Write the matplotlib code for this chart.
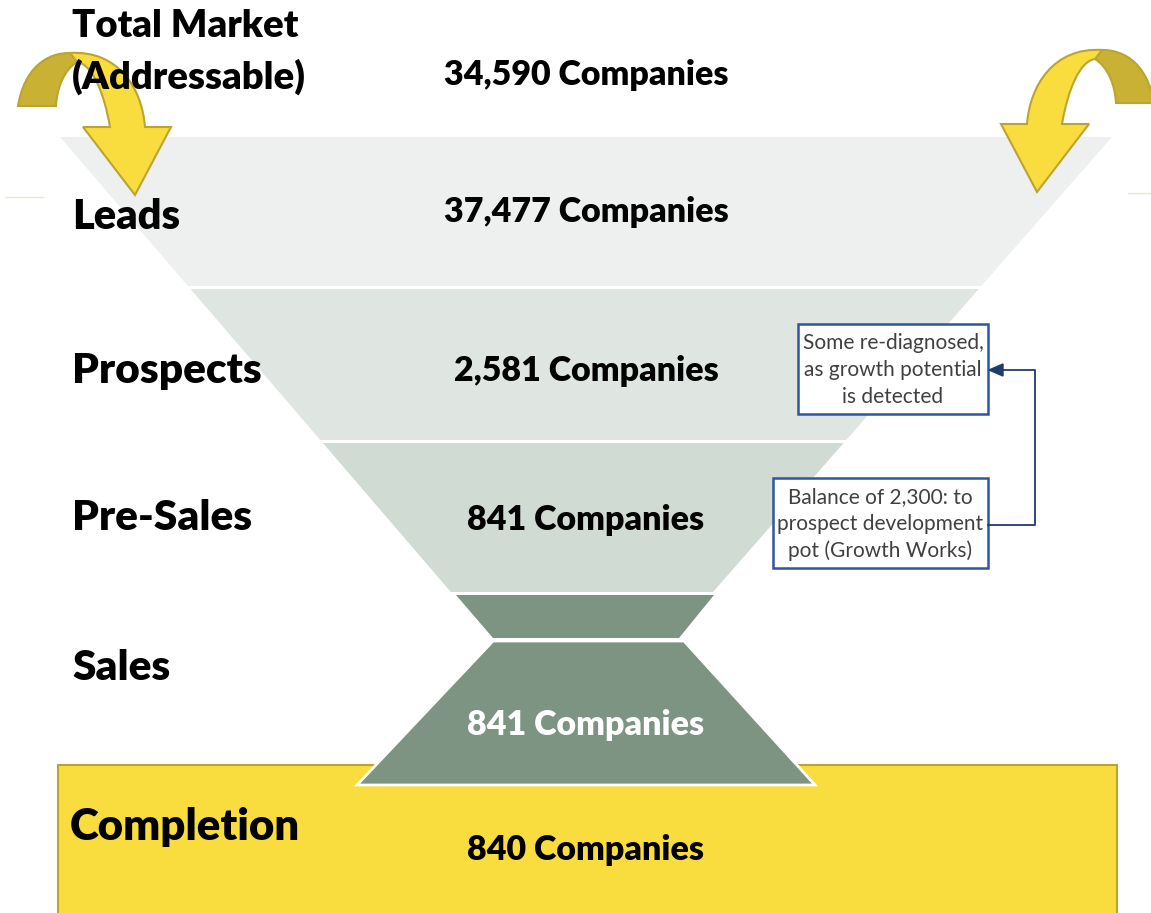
import matplotlib
matplotlib.use("Agg")
import matplotlib.pyplot as plt
from matplotlib.patches import Polygon, Rectangle, PathPatch
from matplotlib.path import Path

# ---------------- data ----------------
stages = ["Total Market\n(Addressable)", "Leads", "Prospects", "Pre-Sales", "Sales", "Completion"]
counts = [34590, 37477, 2581, 841, 841, 840]
note_top = "Some re-diagnosed,\nas growth potential\nis detected"
note_bottom = "Balance of 2,300: to\nprospect development\npot (Growth Works)"

# ---------------- style / layout ----------------
W, H = 1151, 913
FONT = "Lato"
WEIGHT = "heavy"
band_colors = ["#EEF0EF", "#DFE5E1", "#D0DBD4"]
sales_color = "#7E9483"
yellow = "#F9DC3D"
yellow_dark = "#C9B134"
yellow_edge = "#BCA432"
navy = "#1F3A6E"
box_edge = "#2F55A4"

fig = plt.figure(figsize=(W / 100, H / 100), dpi=100)
ax = fig.add_axes([0, 0, 1, 1])
ax.set_xlim(0, W)
ax.set_ylim(H, 0)
ax.axis("off")

# funnel edge lines
def xl(y):
    return 60 + (y - 137) * 0.859

def xr(y):
    return 1112 - (y - 137) * 0.877

band_y = [(137, 286), (289, 440), (443, 592)]
for (y0, y1), col in zip(band_y, band_colors):
    ax.add_patch(Polygon([(xl(y0), y0), (xr(y0), y0), (xr(y1), y1), (xl(y1), y1)],
                         closed=True, facecolor=col, edgecolor="none", zorder=2))

# completion block
ax.add_patch(Rectangle((58, 765), 1117 - 58, 160, facecolor=yellow,
                       edgecolor=yellow_edge, lw=1.5, zorder=1))

# sales shapes (hourglass)
ax.add_patch(Polygon([(456, 595), (714, 595), (679, 638), (493, 638)], closed=True,
                     facecolor=sales_color, edgecolor="none", zorder=3))
ax.add_patch(Polygon([(493, 641), (684, 641), (815, 785), (357, 785)], closed=True,
                     facecolor=sales_color, edgecolor="white", lw=2, zorder=3))

# thin decorative lines
ax.plot([5, 43], [197, 197], color="#EFE6D0", lw=1, zorder=1)
ax.plot([1128, 1151], [193, 193], color="#EFE6D0", lw=1, zorder=1)

# curved arrows
def arrow_paths(mirror=False):
    def t(p):
        x, y = p
        return (1172 - x, y - 3) if mirror else (x, y)
    M, C, L, Z = Path.MOVETO, Path.CURVE4, Path.LINETO, Path.CLOSEPOLY
    back_v = [(18, 106), (24, 70), (45, 52), (72, 53), (77, 62),
              (64, 70), (57, 88), (56, 106), (18, 106)]
    back_c = [M, C, C, C, L, C, C, C, Z]
    front_v = [(70, 53), (118, 50), (142, 88), (145, 127), (171, 127), (135, 195),
               (83, 127), (110, 127), (104, 92), (92, 64), (77, 62), (70, 53)]
    front_c = [M, C, C, C, L, L, L, L, C, C, C, Z]
    return (Path([t(p) for p in back_v], back_c), Path([t(p) for p in front_v], front_c))

for mirror in (False, True):
    back, front = arrow_paths(mirror)
    ax.add_patch(PathPatch(back, facecolor=yellow_dark, edgecolor=yellow_edge, lw=1.5, zorder=4))
    ax.add_patch(PathPatch(front, facecolor=yellow, edgecolor=yellow_edge, lw=1.5, zorder=5))

# stage labels
label_pos = [(72, 37, 27.5), (72, 229, 30), (72, 383, 30.5), (72, 530, 30.5), (72, 680, 30.5), (70, 840, 31.5)]
for name, (x, y, fs) in zip(stages, label_pos):
    if "\n" in name:
        l1, l2 = name.split("\n")
        ax.text(x, y, l1, fontsize=fs, fontweight=WEIGHT, family=FONT,
                va="baseline", ha="left", zorder=6)
        ax.text(x, y + 52, l2, fontsize=fs, fontweight=WEIGHT, family=FONT,
                va="baseline", ha="left", zorder=6)
    else:
        ax.text(x, y, name, fontsize=fs, fontweight=WEIGHT, family=FONT,
                va="baseline", ha="left", zorder=6)

# count labels
count_y = [85, 222, 381, 530, 735, 860]
count_col = ["black", "black", "black", "black", "white", "black"]
for c, y, col in zip(counts, count_y, count_col):
    ax.text(586, y, f"{c:,} Companies", fontsize=24.5, fontweight=WEIGHT, family=FONT,
            color=col, va="baseline", ha="center", zorder=6)

# callout boxes
ax.add_patch(Rectangle((798, 324), 190, 90, facecolor="white", edgecolor=box_edge, lw=1.8, zorder=6))
ax.text(893, 370, note_top, fontsize=15, family=FONT, color="#404040", ha="center", va="center",
        linespacing=1.42, zorder=7)
ax.add_patch(Rectangle((773, 478), 215, 90, facecolor="white", edgecolor=box_edge, lw=1.8, zorder=6))
ax.text(880, 524, note_bottom, fontsize=15, family=FONT, color="#404040", ha="center", va="center",
        linespacing=1.42, zorder=7)

# connector
ax.plot([988, 1035, 1035, 1000], [525, 525, 370, 370], color=navy, lw=1.3, zorder=6)
ax.add_patch(Polygon([(989, 370), (1003, 364), (1003, 376)], closed=True, facecolor=navy,
                     edgecolor=navy, zorder=7))

fig.savefig("out.png", dpi=100)
